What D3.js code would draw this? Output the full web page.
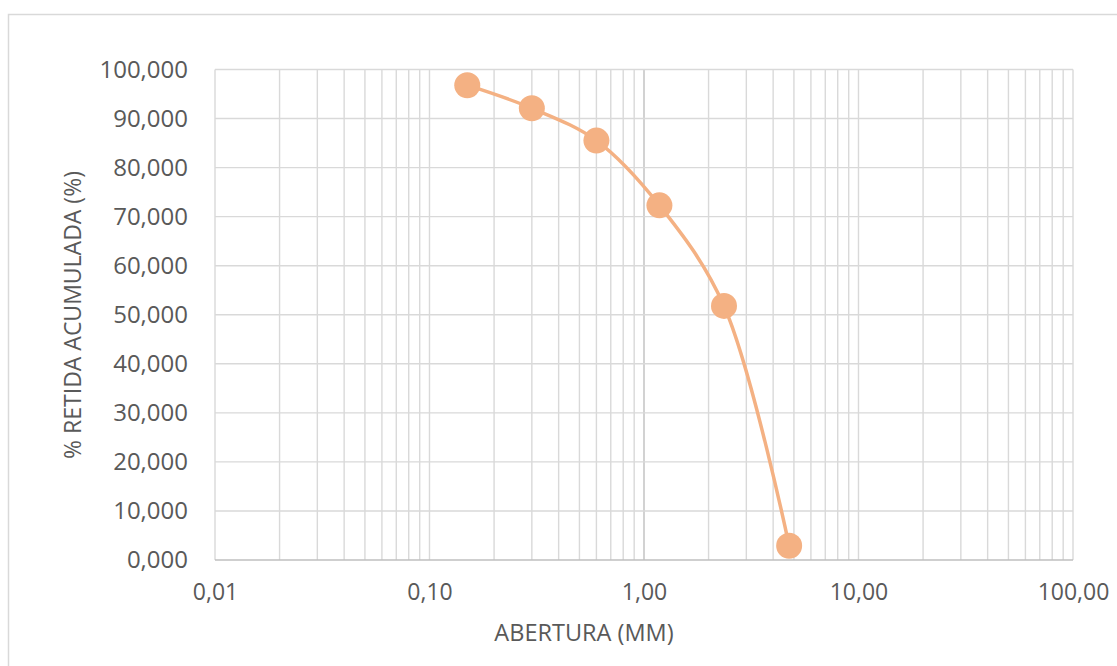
<!DOCTYPE html>
<html lang="pt">
  <head>
    <meta charset="utf-8">
    <title>Curva granulométrica</title>
    <script src="https://d3js.org/d3.v7.min.js"></script>
    <style>
      body { margin: 0; background: #fff; }
      text { font-family: "Open Sans", sans-serif; fill: #595959; }
    </style>
  </head>
  <body>
    <div id="chart"></div>
    <script>
      // sieve openings (mm) and cumulative % retained
      const abertura = [0.15, 0.3, 0.6, 1.18, 2.36, 4.75];
      const retida = [96.8, 92.1, 85.5, 72.3, 51.8, 2.9];

      const yTicks = [0, 10, 20, 30, 40, 50, 60, 70, 80, 90, 100];
      const xTicks = [0.01, 0.1, 1, 10, 100];

      const W = 1117, H = 666;
      const margin = {top: 69.5, right: 44, bottom: 106, left: 215};

      const svg = d3.select("#chart").append("svg")
        .attr("width", W)
        .attr("height", H);

      // chart area border (runs off the right/bottom edge)
      svg.append("rect")
        .attr("x", 8.5).attr("y", 14.5)
        .attr("width", W + 20).attr("height", H + 20)
        .attr("fill", "none")
        .attr("stroke", "#d9d9d9")
        .attr("stroke-width", 1.5);

      const x = d3.scaleLog()
        .domain([0.01, 100])
        .range([margin.left, W - margin.right]);

      const y = d3.scaleLinear()
        .domain([0, 100])
        .range([H - margin.bottom, margin.top]);

      // minor + major vertical grid
      const vLines = [];
      for (let e = -2; e < 2; e++) {
        for (let k = 1; k < 10; k++) vLines.push(k * Math.pow(10, e));
      }
      vLines.push(100);

      const g = svg.append("g");

      g.selectAll(".vgrid")
        .data(vLines)
        .join("line")
          .attr("x1", d => x(d)).attr("x2", d => x(d))
          .attr("y1", y(0)).attr("y2", y(100))
          .attr("stroke", d => Math.abs(d - 1) < 1e-9 ? "#bfbfbf" : "#d9d9d9")
          .attr("stroke-width", 1.4);

      g.selectAll(".hgrid")
        .data(yTicks)
        .join("line")
          .attr("x1", x(0.01)).attr("x2", x(100))
          .attr("y1", d => y(d)).attr("y2", d => y(d))
          .attr("stroke", d => d === 0 ? "#bfbfbf" : "#d9d9d9")
          .attr("stroke-width", 1.4);

      // y axis labels
      const fmtY = d => d3.format(".3f")(d).replace(".", ",");
      svg.append("g")
        .attr("transform", `translate(${margin.left}, 0)`)
        .call(d3.axisLeft(y).tickValues(yTicks).tickFormat(fmtY).tickSize(0).tickPadding(27))
        .call(a => a.select(".domain").remove())
        .selectAll("text")
          .style("font-size", "24px")
          .attr("fill", "#595959");

      // x axis labels
      const fmtX = d => d3.format(".2f")(d).replace(".", ",");
      svg.append("g")
        .attr("transform", `translate(0, ${y(0)})`)
        .call(d3.axisBottom(x).tickValues(xTicks).tickFormat(fmtX).tickSize(0).tickPadding(24))
        .call(a => a.select(".domain").remove())
        .selectAll("text")
          .style("font-size", "23px")
          .attr("fill", "#595959");

      // axis titles
      svg.append("text")
        .attr("x", 584).attr("y", 641)
        .attr("text-anchor", "middle")
        .style("font-size", "23.5px")
        .text("ABERTURA (MM)");

      svg.append("text")
        .attr("transform", "translate(81, 315) rotate(-90)")
        .attr("text-anchor", "middle")
        .style("font-size", "23px")
        .text("% RETIDA ACUMULADA (%)");

      // smoothed curve and markers
      const pts = abertura.map((d, i) => [d, retida[i]]);

      svg.append("path")
        .datum(pts)
        .attr("d", d3.line()
          .x(d => x(d[0]))
          .y(d => y(d[1]))
          .curve(d3.curveCatmullRom.alpha(0.5)))
        .attr("fill", "none")
        .attr("stroke", "#f4b183")
        .attr("stroke-width", 3.5);

      svg.selectAll(".pt")
        .data(pts)
        .join("circle")
          .attr("cx", d => x(d[0]))
          .attr("cy", d => y(d[1]))
          .attr("r", 13)
          .attr("fill", "#f4b183");
    </script>
  </body>
</html>
